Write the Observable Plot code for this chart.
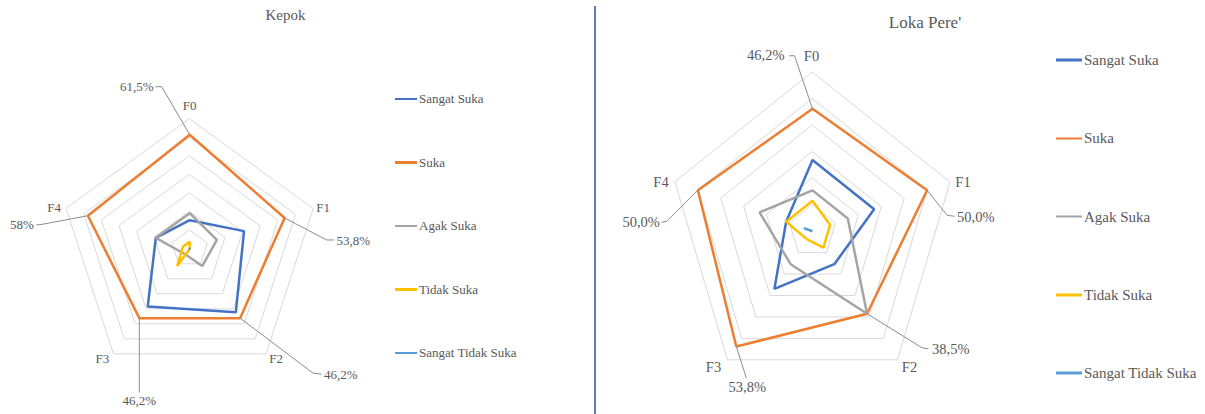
<!DOCTYPE html>
<html><head><meta charset="utf-8">
<script src="https://cdn.jsdelivr.net/npm/d3@7"></script>
<script src="https://cdn.jsdelivr.net/npm/@observablehq/plot@0.6"></script>
<style>
body{margin:0;background:#fff;}
#wrap{position:relative;width:1205px;height:414px;overflow:hidden;font-family:"Liberation Serif","Times New Roman",serif;color:#595959;}
.panel{position:absolute;top:0;}
.title{position:absolute;transform:translate(-50%,-50%);white-space:nowrap;color:#595959;}
.leg{position:absolute;display:flex;align-items:center;white-space:nowrap;transform:translateY(-50%);color:#595959;}
.leg .sw{display:inline-block;height:2.5px;margin-right:2px;}
#divider{position:absolute;left:594px;top:6px;width:2px;height:408px;background:#5a7cc6;}
</style></head>
<body><div id="wrap"><div id="divider"></div></div>
<script>
// ---------- data ----------
const categories = ["F0", "F1", "F2", "F3", "F4"];
const seriesNames = ["Sangat Suka", "Suka", "Agak Suka", "Tidak Suka", "Sangat Tidak Suka"];
const seriesColors = ["#4472C4", "#ED7D31", "#A5A5A5", "#FFC000", "#5B9BD5"];

// Kepok (%)
const kepokSangatSuka      = [15.4, 30.8, 42.3, 38.5, 19.2];
const kepokSuka            = [61.5, 53.8, 46.2, 46.2, 57.7];
const kepokAgakSuka        = [19.2, 15.4, 11.5, 3.8, 19.2];
const kepokTidakSuka       = [3.8, 0, 0, 11.5, 3.8];
const kepokSangatTidakSuka = [0, 0, 0, 0, 0];
const kepokLabels = ["61,5%", "53,8%", "46,2%", "46,2%", "58%"];
const kepokRings = [10, 20, 30, 40, 50, 60, 70];

// Loka Pere' (%)
const lokaSangatSuka      = [26.9, 26.9, 15.4, 26.9, 11.5];
const lokaSuka            = [46.2, 50.0, 38.5, 53.8, 50.0];
const lokaAgakSuka        = [15.4, 15.4, 38.5, 15.4, 23.1];
const lokaTidakSuka       = [11.5, 7.7, 7.7, 3.8, 11.5];
const lokaSangatTidakSuka = [0, 0, 0, 0, 3.8];
const lokaLabels = ["46,2%", "50,0%", "38,5%", "53,8%", "50,0%"];
const lokaRings = [10, 20, 30, 40, 50, 60];

// ---------- layout ----------
const panels = [
  {
    title: "Kepok", titleX: 285.5, titleY: 15, titleSize: 15,
    left: 0, width: 594, cx: 189.2, cy: 248.3, sx: 1.855, sy: 1.855, max: 70,
    rings: kepokRings,
    values: [kepokSangatSuka, kepokSuka, kepokAgakSuka, kepokTidakSuka, kepokSangatTidakSuka],
    labels: kepokLabels, labelSeries: 1, fontSize: 13,
    catOffsets: [[0, -13], [10, -1], [10, 5], [-11, 5], [-12, -1]],
    // [elbowDx, elbowDy, endDx, endDy, textDx, textDy, anchor] in px from the data point
    leaders: [[-28, -48, -34, -48, -36, -48, "end"], [42, 22, 49, 22, 52, 23, "start"],
              [73, 55, 81, 56, 84, 57, "start"], [0, 60, 0, 74, 0, 83, "middle"],
              [-48, 9, -51, 9, -54, 9, "end"]],
    legX: 395, legY0: 99, legDy: 63.5, legLine: 22, legSize: 13
  },
  {
    title: "Loka Pere'", titleX: 925, titleY: 23, titleSize: 17,
    left: 597, width: 608, cx: 812 - 597, cy: 230.7, sx: 2.41, sy: 2.65, max: 60,
    rings: lokaRings,
    values: [lokaSangatSuka, lokaSuka, lokaAgakSuka, lokaTidakSuka, lokaSangatTidakSuka],
    labels: lokaLabels, labelSeries: 1, fontSize: 14.5,
    catOffsets: [[-1, -16], [13, 0], [12, 8], [-14, 8], [-14, 0]],
    leaders: [[-18, -53, -23, -53, -28, -53, "end"], [20, 25, 27, 26, 30, 27, "start"],
              [55, 34, 61, 35, 65, 36, "start"], [8, 25, 10, 31, 11, 41, "middle"],
              [-31, 31, -36, 32, -38, 32, "end"]],
    legX: 1056, legY0: 60, legDy: 78.3, legLine: 26, legSize: 15
  }
];

const wrap = document.getElementById("wrap");
const ang = i => i * 2 * Math.PI / categories.length;
const pt = (r, i) => [r * Math.sin(ang(i)), r * Math.cos(ang(i))];

for (const p of panels) {
  const grid = p.rings.flatMap(r => categories.map((c, i) => ({ring: r, x: pt(r, i)[0], y: pt(r, i)[1]})));
  const series = seriesNames.flatMap((s, k) => p.values[k].map((v, i) => ({series: s, cat: categories[i], x: pt(v, i)[0], y: pt(v, i)[1]})));
  const cats = categories.map((c, i) => ({
    cat: c,
    x: pt(p.max, i)[0] + p.catOffsets[i][0] / p.sx,
    y: pt(p.max, i)[1] - p.catOffsets[i][1] / p.sy
  }));
  const lv = p.values[p.labelSeries];
  const leaderPts = [];
  const labelRows = [];
  lv.forEach((v, i) => {
    const [x0, y0] = pt(v, i);
    const L = p.leaders[i];
    leaderPts.push({id: i, x: x0, y: y0});
    leaderPts.push({id: i, x: x0 + L[0] / p.sx, y: y0 - L[1] / p.sy});
    leaderPts.push({id: i, x: x0 + L[2] / p.sx, y: y0 - L[3] / p.sy});
    labelRows.push({text: p.labels[i], x: x0 + L[4] / p.sx, y: y0 - L[5] / p.sy, anchor: L[6]});
  });
  const textOpts = {fill: "#595959", fontSize: p.fontSize, fontFamily: "Liberation Serif"};
  const chart = Plot.plot({
    width: p.width, height: 414,
    style: {background: "transparent", overflow: "visible", fontFamily: "Liberation Serif"},
    x: {domain: [-p.max, p.max], range: [p.cx - p.max * p.sx, p.cx + p.max * p.sx], axis: null},
    y: {domain: [-p.max, p.max], range: [p.cy + p.max * p.sy, p.cy - p.max * p.sy], axis: null},
    color: {domain: seriesNames, range: seriesColors},
    marks: [
      Plot.line(grid, {x: "x", y: "y", z: "ring", curve: "linear-closed", stroke: "#d9d9d9", strokeWidth: 1}),
      Plot.line(series, {x: "x", y: "y", z: "series", stroke: "series", curve: "linear-closed", strokeWidth: 2.5, strokeLinejoin: "miter"}),
      Plot.line(leaderPts, {x: "x", y: "y", z: "id", stroke: "#8c8c8c", strokeWidth: 1}),
      Plot.text(cats, {x: "x", y: "y", text: "cat", textAnchor: "middle", ...textOpts}),
      ...["start", "middle", "end"].map(a =>
        Plot.text(labelRows.filter(d => d.anchor === a), {x: "x", y: "y", text: "text", textAnchor: a, ...textOpts}))
    ]
  });
  const holder = document.createElement("div");
  holder.className = "panel";
  holder.style.left = p.left + "px";
  holder.appendChild(chart);
  wrap.appendChild(holder);

  const t = document.createElement("div");
  t.className = "title";
  t.style.left = p.titleX + "px";
  t.style.top = p.titleY + "px";
  t.style.fontSize = p.titleSize + "px";
  t.textContent = p.title;
  wrap.appendChild(t);

  seriesNames.forEach((s, k) => {
    const d = document.createElement("div");
    d.className = "leg";
    d.style.left = p.legX + "px";
    d.style.top = (p.legY0 + k * p.legDy) + "px";
    d.style.fontSize = p.legSize + "px";
    const sw = document.createElement("span");
    sw.className = "sw";
    sw.style.width = p.legLine + "px";
    sw.style.background = seriesColors[k];
    d.appendChild(sw);
    d.appendChild(document.createTextNode(s));
    wrap.appendChild(d);
  });
}
</script>
</body></html>
